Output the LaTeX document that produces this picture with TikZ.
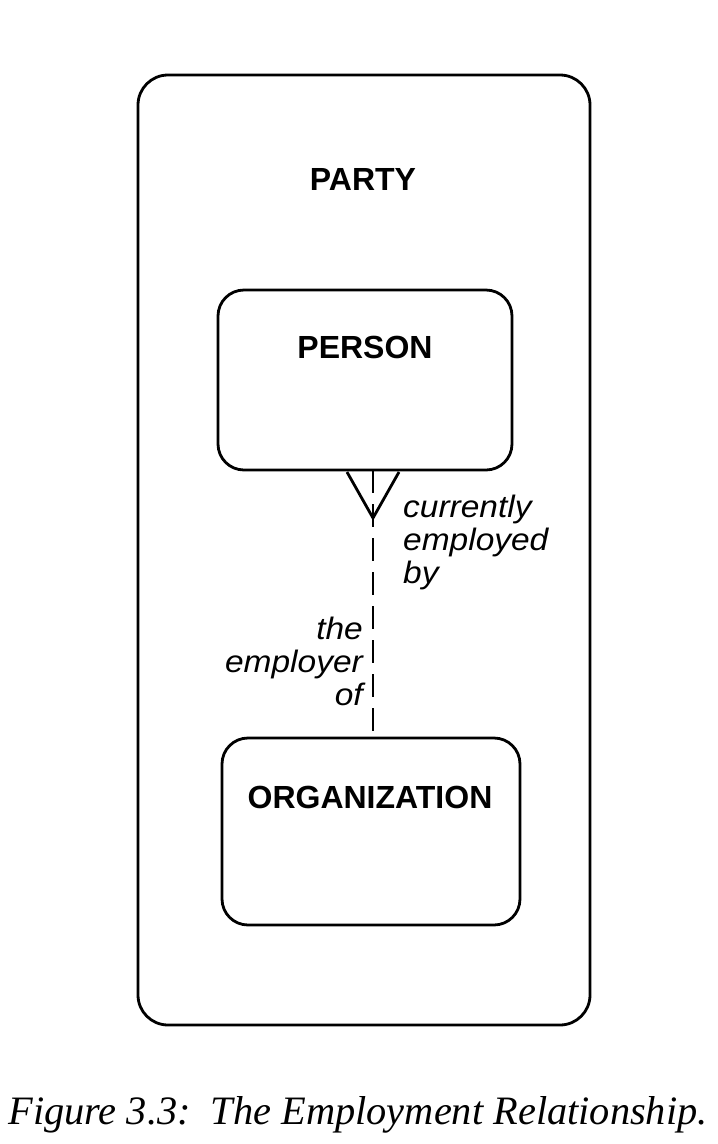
\documentclass[tikz,border=0pt]{standalone}
\usepackage{fontspec}
\usepackage{graphicx}
\setmainfont{Liberation Serif}
\newfontfamily\labelfont{Liberation Sans}
\begin{document}
\begin{tikzpicture}[x=1pt,y=-1pt,
  entitybox/.style={draw, line width=2.8pt, rounded corners=#1},
  entityname/.style={font=\labelfont\bfseries\fontsize{32}{34}\selectfont},
  rolename/.style={font=\labelfont\itshape\fontsize{31}{33}\selectfont, inner sep=0pt},
  relline/.style={line width=2.8pt, dash pattern=on 23pt off 11pt},
  crowfoot/.style={line width=2.8pt, line join=miter}]
  \useasboundingbox[fill=white] (0,0) rectangle (718,1144);

  % supertype and subtypes
  \draw[entitybox=30pt] (138,75) rectangle (590,1025);
  \node[entityname] (party) at (363,179) {PARTY};
  \draw[entitybox=26pt] (218,290) rectangle (512,470);
  \coordinate (personbot) at (373,470);
  \node[entityname] (person) at (365,347) {PERSON};
  \draw[entitybox=26pt] (222,738) rectangle (520,925);
  \coordinate (orgtop) at (373,738);
  \node[entityname] (org) at (370,797) {ORGANIZATION};

  % relationship: many end at PERSON, dashed (optional)
  \coordinate (fork) at (373,518);
  \coordinate (footl) at (347,472);
  \coordinate (footr) at (399,472);
  \draw[crowfoot] (footl) -- (fork) -- (footr);
  \draw[relline] (personbot) -- (orgtop);

  \node[rolename, anchor=north west, align=left] (cur) at (403,495)
    {\scalebox{1.08}[1]{currently}\\\scalebox{1.08}[1]{employed}\\\scalebox{1.08}[1]{by}};
  \node[rolename, anchor=north east, align=right] (emp) at (363,617)
    {\scalebox{1.08}[1]{the}\\\scalebox{1.08}[1]{employer}\\\scalebox{1.08}[1]{of}};

  % caption
  \node[anchor=center] (caption) at (358,1115)
    {\resizebox{699pt}{!}{\itshape Figure 3.3:\ \ The Employment Relationship.}};
\end{tikzpicture}
\end{document}
